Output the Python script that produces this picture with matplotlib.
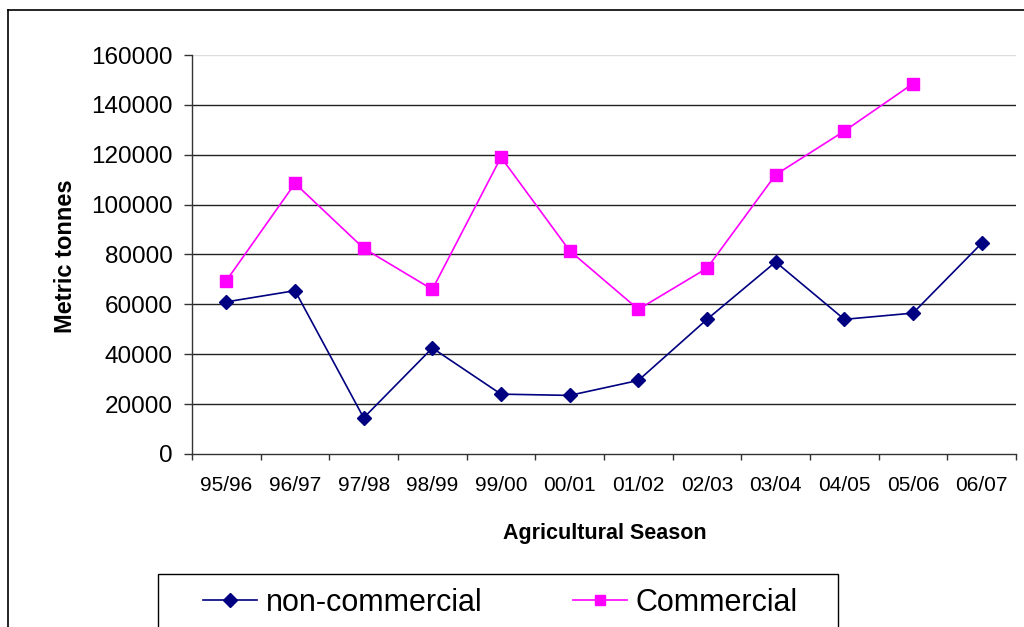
import matplotlib
matplotlib.use("Agg")
import matplotlib.pyplot as plt
from matplotlib.lines import Line2D
from matplotlib.patches import Rectangle

plt.rcParams['font.family'] = ['Liberation Sans', 'DejaVu Sans']

seasons = ["95/96", "96/97", "97/98", "98/99", "99/00", "00/01",
           "01/02", "02/03", "03/04", "04/05", "05/06", "06/07"]
non_commercial = [61000, 65500, 14500, 42500, 24000, 23500,
                  29500, 54000, 77000, 54000, 56500, 84500]
commercial = [69500, 108500, 82500, 66000, 119000, 81500,
              58000, 74500, 112000, 129500, 148500, None]
y_ticks = [0, 20000, 40000, 60000, 80000, 100000, 120000, 140000, 160000]

W, H = 1024, 627
fig = plt.figure(figsize=(W / 100, H / 100), dpi=100)
ax = fig.add_axes([192 / W, 1 - 454 / H, 824 / W, 399 / H])

x = list(range(len(seasons)))
c_x = [i for i, v in zip(x, commercial) if v is not None]
c_y = [v for v in commercial if v is not None]

ax.plot(x, non_commercial, color='#000080', lw=1.2, marker='D', ms=7.5,
        markeredgecolor='#000080', markerfacecolor='#000080', zorder=4,
        label='non-commercial')
ax.plot(c_x, c_y, color='#FF00FF', lw=1.2, marker='s', ms=8,
        markeredgecolor='#FF00FF', markerfacecolor='#FF00FF', zorder=3,
        label='Commercial')

ax.set_xlim(-0.5, len(seasons) - 0.5)
ax.set_ylim(0, 160000)

ax.set_yticks(y_ticks)
ax.set_yticklabels([str(v) for v in y_ticks], fontsize=17.5)
ax.tick_params(axis='y', direction='out', length=6, width=1, color='#333333', pad=8)

ax.set_xticks(x)
ax.set_xticklabels(seasons, fontsize=15)
ax.set_xticks([i - 0.5 for i in range(len(seasons) + 1)], minor=True)
ax.tick_params(axis='x', which='major', length=0, pad=16)
ax.tick_params(axis='x', which='minor', direction='out', length=4, width=1, color='#333333')

ax.grid(axis='y', color='#222222', lw=1)
gl = ax.get_ygridlines()
gl[0].set_visible(False)
gl[-1].set_color('#dddddd')
ax.set_axisbelow(True)

for s in ['top', 'right']:
    ax.spines[s].set_visible(False)
for s in ['left', 'bottom']:
    ax.spines[s].set_color('#333333')
    ax.spines[s].set_linewidth(1)

ax.set_xlabel('Agricultural Season', fontsize=15.5, fontweight='bold', va='center')
ax.xaxis.set_label_coords(0.501, (454 - 533) / 399)
ax.set_ylabel('Metric tonnes', fontsize=17, fontweight='bold', va='center')
ax.yaxis.set_label_coords((65 - 192) / 824, 0.495)

# legend
handles, labels = ax.get_legend_handles_labels()
leg = fig.legend(handles, labels, loc='center left',
                 bbox_to_anchor=(203 / W, 1 - 603 / H, (798 - 203) / W, 0),
                 mode='expand', ncol=2, fontsize=22, frameon=False,
                 borderpad=0, borderaxespad=0, handlelength=1.77,
                 handletextpad=0.3, numpoints=1, markerscale=0.9)
fig.add_artist(Rectangle((158 / W, -0.2), (838 - 158) / W, 0.2 + 1 - 574 / H,
                         transform=fig.transFigure, fill=False,
                         edgecolor='black', lw=1))

# outer frame
fig.add_artist(Line2D([8 / W, 8 / W], [-0.1, 1 - 10 / H], transform=fig.transFigure,
                      color='black', lw=1.2))
fig.add_artist(Line2D([8 / W, 1.1], [1 - 10 / H, 1 - 10 / H], transform=fig.transFigure,
                      color='black', lw=1.2))

fig.savefig('out.png', dpi=100)
